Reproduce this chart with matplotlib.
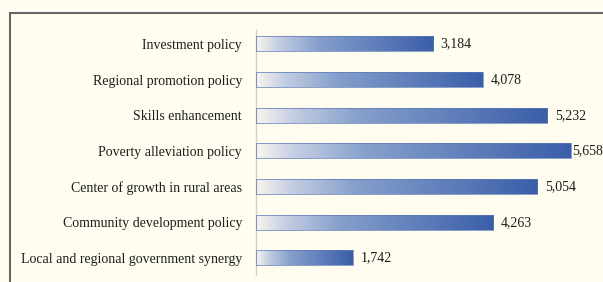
import matplotlib
matplotlib.use("Agg")
import matplotlib.pyplot as plt
import numpy as np
from matplotlib.colors import LinearSegmentedColormap
from matplotlib.patches import Rectangle

categories = [
    "Investment policy",
    "Regional promotion policy",
    "Skills enhancement",
    "Poverty alleviation policy",
    "Center of growth in rural areas",
    "Community development policy",
    "Local and regional government synergy",
]
values = [3184, 4078, 5232, 5658, 5054, 4263, 1742]

bg = "#fefdf0"
grad = LinearSegmentedColormap.from_list(
    "bar", [(0.0, "#f8f5ee"), (0.12, "#c6cfe3"), (0.35, "#86a0cc"), (1.0, "#3a5ea9")])

fig = plt.figure(figsize=(6.03, 2.82), dpi=100, facecolor=bg)
ax = fig.add_axes([256 / 603, 7 / 282, (603 - 256) / 603, (275 - 30) / 282])
ax.set_facecolor(bg)

ypos = np.arange(len(categories))
h = 0.42
g = np.linspace(0, 1, 256).reshape(1, -1)
for y, v in zip(ypos, values):
    ax.imshow(g, cmap=grad, aspect="auto", extent=[0, v, y + h / 2, y - h / 2],
              interpolation="bilinear", zorder=2)
ax.barh(ypos, values, height=h, facecolor="none", edgecolor="#5a78b6",
        linewidth=0.5, zorder=3)

vmax = max(values)
for y, v in zip(ypos, values):
    off = 1 if v == vmax else 5.5
    ax.annotate(f"{v:,}", (v, y), xytext=(off, 0), textcoords="offset points",
                va="center", ha="left", fontsize=10, family="Liberation Serif",
                color="#1e1e1e", annotation_clip=False)

ax.set_xlim(0, (603 - 258) / 0.0553)
ax.set_ylim(len(categories) - 1 + 0.48, -0.39)
ax.set_yticks(ypos)
ax.set_yticklabels(categories, family="Liberation Serif", fontsize=10, color="#1e1e1e")
ax.tick_params(axis="y", length=0, pad=10)
ax.set_xticks([])
for s in ["top", "right", "bottom"]:
    ax.spines[s].set_visible(False)
ax.spines["left"].set_color("#dccdc4")
ax.spines["left"].set_linewidth(1.0)

# outer frame
fig.patches.append(Rectangle((10 / 603, -0.1), 1.0, 1.1 - 13 / 282,
                             transform=fig.transFigure, fill=False,
                             edgecolor="#666666", linewidth=1.5))

fig.savefig("out.png", dpi=100, facecolor=bg)
